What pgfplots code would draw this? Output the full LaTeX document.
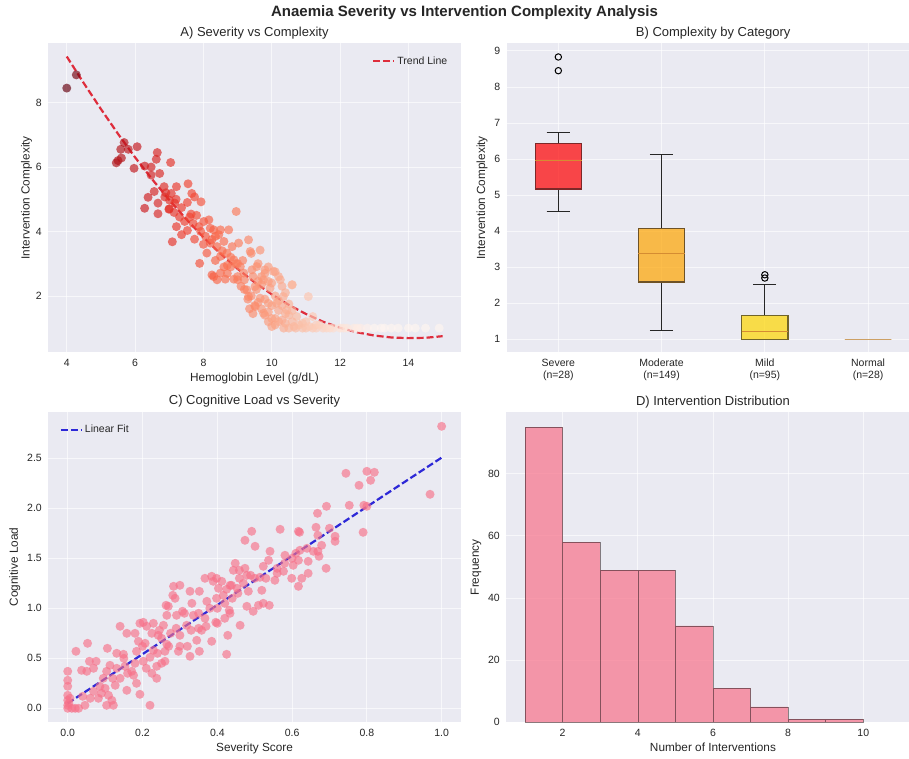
\documentclass[border=0pt]{standalone}
\usepackage{fontspec}
\setmainfont{Liberation Sans}
\usepackage{pgfplots}
\pgfplotsset{compat=1.18}
\usepgfplotslibrary{statistics}
\definecolor{bgc}{RGB}{234,234,242}
\definecolor{txt}{RGB}{38,38,38}
\definecolor{trendc}{RGB}{222,45,60}
\definecolor{fitc}{RGB}{45,40,215}
\definecolor{pinkc}{RGB}{247,113,137}
\definecolor{medc}{RGB}{213,140,50}
\definecolor{orgc}{RGB}{255,165,0}
\definecolor{goldc}{RGB}{255,215,0}
\definecolor{normc}{RGB}{205,160,100}
\definecolor{edgered}{RGB}{125,40,40}
\definecolor{edgeorg}{RGB}{110,82,38}
\definecolor{edgegold}{RGB}{112,100,42}
\pgfplotsset{
  colormap={myreds}{rgb255=(103,0,13) rgb255=(165,15,21) rgb255=(203,24,29) rgb255=(239,59,44) rgb255=(251,106,74) rgb255=(252,146,114) rgb255=(252,187,161) rgb255=(254,224,210) rgb255=(255,245,240)},
  every axis title/.style={at={(0.5,1)}, anchor=base, yshift=7pt, font=\fontsize{13}{15}\selectfont, text=txt},
  sns/.style={scale only axis, anchor=south west,
    axis background/.style={fill=bgc},
    grid=major, major grid style={draw=white, line width=0.8pt, opacity=0.65},
    axis line style={draw=none}, major tick length=0pt, tick style={draw=none},
    tick label style={font=\fontsize{10.5}{12.5}\selectfont, text=txt},
    label style={font=\fontsize{11.8}{13}\selectfont, text=txt},
    /pgf/number format/assume math mode=true,
    xticklabel style={yshift=-3pt}, yticklabel style={xshift=-3pt},
    legend style={draw=none, fill=none, font=\fontsize{10.5}{12.5}\selectfont, text=txt, legend cell align=left},
    legend image code/.code={\draw[##1] (0pt,0pt) -- (21pt,0pt);},
  },
}
\begin{document}
\begin{tikzpicture}[x=1pt,y=1pt]
\path[use as bounding box] (0,0) rectangle (909,758);
\node[font=\bfseries\fontsize{15}{17}\selectfont, text=txt, anchor=base] at (464.5,741) {Anaemia Severity vs Intervention Complexity Analysis};

% ---------------- A
\begin{axis}[sns, at={(48.3pt,405.7pt)}, width=412.4pt, height=309pt,
  xmin=3.46, xmax=15.53, ymin=0.25, ymax=9.84,
  xtick={4,6,...,14}, ytick={2,4,6,8},
  title={A) Severity vs Complexity},
  xlabel={Hemoglobin Level (g/dL)}, ylabel={Intervention Complexity},
  ylabel style={yshift=-3pt},
  colormap name=myreds, point meta min=4, point meta max=13,
  legend style={at={(0.98,0.97)}, anchor=north east}]
\addplot[scatter, only marks, scatter src=x, mark=*, mark size=4.5pt,
  scatter/use mapped color={draw opacity=0, fill=mapped color, fill opacity=0.66}, forget plot] table {
4.00 8.45
4.28 8.86
5.68 6.76
5.58 6.55
5.80 6.55
6.06 6.63
5.50 6.20
5.45 6.13
5.60 6.28
5.97 5.96
6.28 6.03
6.47 6.00
6.65 6.45
6.62 6.24
6.72 5.80
7.04 6.14
6.47 5.75
6.85 5.39
6.56 5.24
6.38 5.06
6.28 4.72
6.67 4.55
6.67 4.88
6.87 5.07
7.06 5.18
7.01 4.97
7.21 5.39
7.16 4.88
6.99 4.69
7.14 4.59
7.55 5.48
7.66 5.18
7.74 5.07
7.93 4.92
7.36 4.74
7.53 4.90
7.64 4.54
7.21 4.15
7.45 4.31
7.09 3.68
7.36 3.90
7.53 4.03
7.74 3.76
7.87 4.15
8.01 4.31
8.16 4.36
7.92 4.00
8.06 3.85
8.30 4.05
8.35 3.85
8.50 4.05
8.74 4.05
8.96 4.62
8.20 3.64
8.10 3.33
8.40 3.53
8.60 3.69
7.89 3.01
8.50 3.23
8.69 3.33
8.84 3.53
9.03 3.64
9.32 3.74
9.37 3.38
8.89 3.12
9.08 2.91
8.50 2.71
8.64 2.52
8.89 2.52
9.18 2.71
9.42 2.81
9.27 2.19
9.32 1.98
9.52 1.67
9.66 3.42
9.40 3.32
9.56 2.91
9.80 2.81
10.05 2.76
9.76 2.50
9.51 2.29
9.95 2.24
10.25 2.50
10.59 2.34
9.66 1.93
9.90 1.77
10.14 1.77
10.34 1.98
10.10 1.10
9.76 1.46
10.44 1.56
10.73 1.36
11.07 1.98
10.90 1.15
11.20 1.36
11.30 1.10
7.80 4.50
8.20 4.10
8.45 3.90
8.00 3.60
7.70 4.25
8.25 3.75
8.55 3.40
8.80 3.20
8.95 3.00
9.15 3.10
9.20 2.50
9.00 2.60
8.70 2.95
9.45 2.60
9.60 2.45
8.35 3.10
7.60 4.45
7.30 4.45
7.00 4.70
6.90 5.20
7.20 5.00
9.80 1.40
9.90 1.20
10.00 1.05
10.10 1.30
10.20 1.55
10.30 1.25
10.35 1.00
10.40 1.15
10.50 1.40
10.50 1.00
10.60 1.20
10.65 1.05
10.70 1.00
10.80 1.10
10.90 1.00
11.00 1.20
11.00 1.00
11.10 1.05
11.20 1.00
11.30 1.00
11.40 1.10
11.50 1.00
11.60 1.00
11.70 1.00
11.80 1.00
12.00 1.00
12.10 1.00
12.20 1.00
12.40 1.00
12.50 1.00
12.60 1.00
12.80 1.00
13.00 1.00
13.20 1.00
13.30 1.00
13.50 1.00
13.70 1.00
14.00 1.00
14.20 1.00
14.50 1.00
14.90 1.00
9.60 1.80
9.70 1.60
9.50 1.70
9.80 1.90
10.00 1.70
10.10 2.00
10.20 1.85
10.00 2.40
10.20 2.60
10.10 2.75
9.90 2.90
10.40 2.10
10.50 1.75
10.60 1.55
9.40 2.00
9.30 1.90
9.35 1.60
9.45 1.45
9.20 2.20
9.00 2.50
9.10 2.30
9.00 3.00
8.80 2.90
8.70 2.70
8.60 2.90
8.30 2.60
8.40 2.50
8.25 2.65
9.60 3.00
9.70 2.60
9.80 2.70
10.30 2.30
10.60 2.35
9.90 2.45
9.55 2.20
9.70 2.35
10.00 1.30
10.20 1.20
9.90 1.50
10.40 1.45
10.30 1.70
};
\addplot[trendc, line width=2.2pt, dash pattern=on 7pt off 3pt] coordinates {
(4.0,9.43) (4.5,8.60) (5.0,7.80) (5.5,7.03) (6.0,6.30) (6.5,5.62) (7.0,4.98)
(7.5,4.38) (8.0,3.82) (8.5,3.31) (9.0,2.84) (9.5,2.42) (10.0,2.05) (10.5,1.72)
(11.0,1.44) (11.5,1.20) (12.0,1.01) (12.5,0.87) (13.0,0.77) (13.5,0.71)
(14.0,0.69) (14.5,0.70) (15.0,0.75)};
\addlegendentry{Trend Line}
\end{axis}

% ---------------- B
\begin{axis}[sns, at={(506.7pt,405.7pt)}, width=413pt, height=309pt,
  xmin=0.5, xmax=4.5, ymin=0.64, ymax=9.21,
  xtick={1,2,3,4}, ytick={1,2,...,9},
  xticklabels={{Severe\\(n=28)},{Moderate\\(n=149)},{Mild\\(n=95)},{Normal\\(n=28)}},
  xticklabel style={align=center, font=\fontsize{10.5}{12}\selectfont},
  title={B) Complexity by Category},
  ylabel={Intervention Complexity},
  boxplot/draw direction=y,
  boxplot/every median/.style={draw=medc, line width=1pt, draw opacity=1},
  boxplot/every whisker/.style={draw=black!85, line width=0.9pt, draw opacity=1},
  boxplot/every box/.style={line width=1.2pt},
  ]
\addplot[boxplot prepared={draw position=1, lower whisker=4.55, lower quartile=5.17,
  median=5.95, upper quartile=6.44, upper whisker=6.74, box extend=0.45, whisker extend=0.225},
  fill=red, fill opacity=0.7, draw=edgered,
  mark=o, mark size=3.2pt, mark options={draw=black, draw opacity=1, fill opacity=0, line width=1pt}]
  table[row sep=\\, y index=0] {8.45\\ 8.83\\};
\addplot[boxplot prepared={draw position=2, lower whisker=1.24, lower quartile=2.59,
  median=3.39, upper quartile=4.07, upper whisker=6.12, box extend=0.45, whisker extend=0.225},
  fill=orgc, fill opacity=0.7, draw=edgeorg] coordinates {};
\addplot[boxplot prepared={draw position=3, lower whisker=1.0, lower quartile=1.0,
  median=1.21, upper quartile=1.67, upper whisker=2.51, box extend=0.45, whisker extend=0.225},
  fill=goldc, fill opacity=0.7, draw=edgegold,
  mark=o, mark size=3.2pt, mark options={draw=black, draw opacity=1, fill opacity=0, line width=1pt}]
  table[row sep=\\, y index=0] {2.70\\ 2.79\\};
\addplot[boxplot prepared={draw position=4, lower whisker=1.0, lower quartile=1.0,
  median=1.0, upper quartile=1.0, upper whisker=1.0, box extend=0.45, whisker extend=0.225},
  draw=normc, fill=normc, boxplot/every box/.style={draw=normc, line width=1.6pt},
  boxplot/every median/.style={draw=normc, line width=1.6pt},
  boxplot/every whisker/.style={draw=normc, line width=0.1pt}] coordinates {};
\end{axis}

% ---------------- C
\begin{axis}[sns, at={(48.3pt,35.7pt)}, width=412.4pt, height=310.6pt,
  xmin=-0.052, xmax=1.051, ymin=-0.14, ymax=2.966,
  xtick={0,0.2,...,1.0}, ytick={0,0.5,...,2.5},
  xticklabel style={/pgf/number format/.cd, fixed, fixed zerofill, precision=1},
  yticklabel style={/pgf/number format/.cd, fixed, fixed zerofill, precision=1},
  title={C) Cognitive Load vs Severity},
  xlabel={Severity Score}, ylabel={Cognitive Load},
  legend style={at={(0.02,0.97)}, anchor=north west}]
\addplot[only marks, mark=*, mark size=4.5pt, mark options={draw opacity=0, fill=pinkc, fill opacity=0.65}, forget plot] table {
1.000 2.82
0.969 2.14
0.800 2.37
0.820 2.36
0.744 2.35
0.779 2.23
0.810 2.28
0.753 2.03
0.792 2.03
0.800 2.02
0.692 2.02
0.668 1.95
0.790 1.76
0.700 1.80
0.664 1.81
0.715 1.72
0.715 1.67
0.669 1.73
0.679 1.63
0.657 1.57
0.669 1.57
0.672 1.52
0.691 1.40
0.643 1.47
0.643 1.35
0.626 1.30
0.617 1.22
0.617 1.77
0.620 1.76
0.568 1.79
0.621 1.58
0.603 1.43
0.617 1.48
0.599 1.30
0.581 1.53
0.577 1.37
0.554 1.28
0.541 1.57
0.537 1.48
0.523 1.42
0.514 1.31
0.519 1.18
0.539 1.03
0.523 1.05
0.510 1.03
0.492 1.77
0.474 1.68
0.501 1.62
0.489 1.33
0.483 1.17
0.479 1.02
0.496 0.97
0.474 1.40
0.479 1.33
0.459 1.38
0.448 1.45
0.461 0.83
0.438 1.23
0.434 0.95
0.432 0.98
0.428 0.73
0.425 0.54
0.425 1.19
0.412 1.27
0.416 1.13
0.398 1.10
0.403 1.20
0.389 1.27
0.396 0.86
0.385 0.67
0.372 1.07
0.367 0.90
0.352 1.17
0.367 1.30
0.385 1.32
0.352 0.57
0.345 0.68
0.358 0.78
0.336 0.93
0.332 1.05
0.327 1.17
0.327 0.52
0.318 0.83
0.307 0.97
0.300 0.73
0.296 0.57
0.291 0.93
0.287 1.10
0.283 1.22
0.281 1.13
0.269 1.02
0.265 0.93
0.265 0.64
0.260 0.57
0.260 0.47
0.256 0.83
0.251 0.70
0.251 0.45
0.242 0.73
0.238 0.42
0.238 0.30
0.229 0.85
0.229 0.58
0.225 0.35
0.225 0.75
0.220 0.51
0.220 0.03
0.211 0.82
0.207 0.65
0.202 0.47
0.193 0.14
0.193 0.85
0.189 0.67
0.184 0.57
0.180 0.75
0.176 0.33
0.171 0.37
0.184 0.25
0.158 0.18
0.153 0.42
0.149 0.54
0.140 0.82
0.140 0.30
0.131 0.40
0.131 0.55
0.127 0.23
0.122 0.03
0.118 0.08
0.113 0.43
0.109 0.13
0.104 0.03
0.106 0.60
0.104 0.37
0.095 0.30
0.086 0.22
0.082 0.10
0.076 0.47
0.069 0.40
0.069 0.17
0.058 0.47
0.053 0.65
0.051 0.37
0.046 0.03
0.037 0.38
0.022 0.57
0.029 0.00
0.020 0.00
0.011 0.00
0.000 0.37
0.000 0.28
0.000 0.22
0.000 0.13
0.000 0.08
0.000 0.03
0.000 0.00
0.003 0.05
0.006 0.10
0.398 1.30
0.443 1.38
0.434 1.23
0.453 1.20
0.459 1.30
0.263 1.03
0.300 1.23
0.312 0.95
0.202 0.86
0.158 0.75
0.245 0.78
0.270 0.62
0.300 0.62
0.320 0.62
0.350 0.80
0.370 0.82
0.380 1.00
0.400 1.00
0.420 1.05
0.440 1.10
0.455 1.15
0.470 1.25
0.500 1.30
0.530 1.30
0.560 1.40
0.580 1.45
0.600 1.50
0.610 1.55
0.640 1.60
0.560 1.35
0.350 0.95
0.330 0.78
0.240 0.55
0.210 0.40
0.180 0.45
0.160 0.35
0.120 0.30
0.100 0.20
0.090 0.15
0.060 0.10
0.040 0.12
0.275 0.75
0.290 0.80
0.200 0.62
0.150 0.50
0.400 0.85
0.420 0.90
};
\addplot[fitc, line width=2.2pt, dash pattern=on 7pt off 3pt] coordinates {(0,0.05) (1,2.507)};
\addlegendentry{Linear Fit}
\end{axis}

% ---------------- D
\begin{axis}[sns, at={(506.3pt,35.7pt)}, width=413.3pt, height=310pt,
  xmin=0.5, xmax=11.5, ymin=0, ymax=99.75,
  xtick={2,4,...,10}, ytick={0,20,...,80},
  title={D) Intervention Distribution},
  xlabel={Number of Interventions}, ylabel={Frequency}]
\addplot[ybar interval, fill=pinkc, fill opacity=0.7, draw=black, draw opacity=0.45, line width=0.5pt]
  coordinates {(1,95) (2,58) (3,49) (4,49) (5,31) (6,11) (7,5) (8,1) (9,1) (10,0)};
\end{axis}
\end{tikzpicture}
\end{document}
